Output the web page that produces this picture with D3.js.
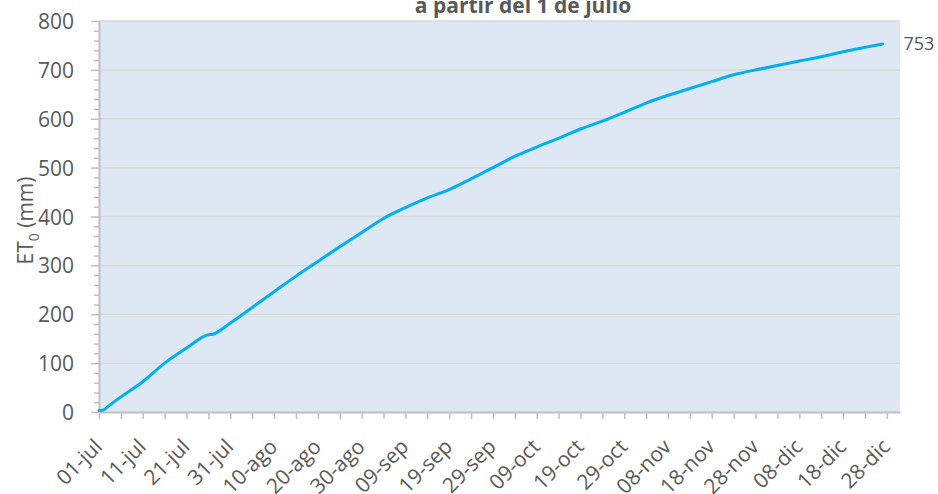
<!DOCTYPE html>
<html>
<meta charset="utf-8">
<style>
  body {
    margin: 0;
    padding: 0;
    background-color: #ffffff;
    font-family: "Open Sans", sans-serif;
  }
  text {
    font-family: "Open Sans", sans-serif;
    fill: #595959;
  }
  .title {
    font-size: 21px;
    font-weight: 700;
  }
  .y-axis text { font-size: 21px; }
  .x-axis text { font-size: 21px; }
  .domain { stroke: #bfbfbf; stroke-width: 2px; }
  .tick line { stroke: #bfbfbf; stroke-width: 1.5px; }
</style>
<body>

<script src="https://d3js.org/d3.v7.min.js"></script>

<div id="my_dataviz"></div>

<script>

// fechas (ET0 acumulada desde el 1 de julio)
var fechas = ["2021-07-01","2021-07-02","2021-07-03","2021-07-06","2021-07-11","2021-07-16",
  "2021-07-21","2021-07-26","2021-07-27","2021-07-31","2021-08-05","2021-08-10","2021-08-15",
  "2021-08-20","2021-08-25","2021-08-30","2021-09-04","2021-09-09","2021-09-14","2021-09-19",
  "2021-09-24","2021-09-29","2021-10-04","2021-10-09","2021-10-14","2021-10-19","2021-10-24",
  "2021-10-29","2021-11-03","2021-11-08","2021-11-13","2021-11-18","2021-11-23","2021-11-28",
  "2021-12-03","2021-12-08","2021-12-13","2021-12-18","2021-12-23","2021-12-27"];

// ET0 acumulada (mm)
var et0 = [3, 4, 11, 31, 62, 100, 131, 158, 159, 182, 214, 246, 278, 308, 338, 367, 396, 418,
  438, 455, 477, 500, 523, 542, 560, 579, 595, 613, 632, 648, 662, 676, 690, 700, 709, 718,
  727, 737, 746, 753];

// etiquetas del eje x (cada 10 dias)
var etiquetasX = ["01-jul","11-jul","21-jul","31-jul","10-ago","20-ago","30-ago","09-sep",
  "19-sep","29-sep","09-oct","19-oct","29-oct","08-nov","18-nov","28-nov","08-dic","18-dic","28-dic"];

var ticksY = [0, 100, 200, 300, 400, 500, 600, 700, 800];

var titulo = "a partir del 1 de julio";
var tituloY = "ET";
var etiquetaFinal = "753";

// dimensions
var margin = {top: 21, right: 38, bottom: 82, left: 99},
    width = 938 - margin.left - margin.right,
    height = 494 - margin.top - margin.bottom;

var svg = d3.select("#my_dataviz")
  .append("svg")
    .attr("width", 938)
    .attr("height", 494);

var g = svg.append("g")
    .attr("transform", "translate(" + margin.left + "," + margin.top + ")");

var parse = d3.timeParse("%Y-%m-%d");
var data = fechas.map(function(f, i) { return {fecha: parse(f), valor: et0[i]}; });

var inicio = parse("2021-07-01");
var fin = parse("2021-12-31");

// scales
var x = d3.scaleTime()
  .domain([inicio, fin])
  .range([0, width]);

var y = d3.scaleLinear()
  .domain([0, 800])
  .range([height, 0]);

// plot background
g.append("rect")
  .attr("width", width)
  .attr("height", height)
  .attr("fill", "#dde8f4");

// gridlines
g.append("g")
  .selectAll("line")
  .data(ticksY.slice(1))
  .enter()
  .append("line")
    .attr("x1", 0)
    .attr("x2", width)
    .attr("y1", function(d) { return y(d); })
    .attr("y2", function(d) { return y(d); })
    .attr("stroke", "#d9d9d9")
    .attr("stroke-width", 1.5);

// Y axis: minor ticks every 20
var menores = d3.range(0, 801, 20).filter(function(d) { return d % 100 != 0; });
g.append("g")
  .attr("class", "y-axis")
  .call(d3.axisLeft(y).tickValues(menores).tickSize(5).tickFormat(""))
  .select(".domain").remove();

g.append("g")
  .attr("class", "y-axis")
  .call(d3.axisLeft(y).tickValues(ticksY).tickSize(8).tickPadding(17).tickSizeOuter(0))
  .selectAll(".tick text")
    .attr("dy", "0.36em");

// X axis: tick every 5 days, label every 10
var ticksX = d3.range(0, 37).map(function(i) { return d3.timeDay.offset(inicio, i * 5); });
var ejeX = g.append("g")
  .attr("class", "x-axis")
  .attr("transform", "translate(0," + height + ")")
  .call(d3.axisBottom(x)
    .tickValues(ticksX)
    .tickSize(7)
    .tickSizeOuter(0)
    .tickFormat(function(d, i) { return i % 2 == 0 ? etiquetasX[i / 2] : ""; }));

ejeX.selectAll(".tick text")
  .attr("y", 0)
  .attr("dy", 0)
  .attr("text-anchor", "end")
  .attr("transform", "translate(4,36) rotate(-45)");

// line
g.append("path")
  .datum(data)
  .attr("fill", "none")
  .attr("stroke", "#00b0f0")
  .attr("stroke-width", 3)
  .attr("stroke-linejoin", "round")
  .attr("stroke-linecap", "round")
  .attr("d", d3.line()
    .curve(d3.curveMonotoneX)
    .x(function(d) { return x(d.fecha); })
    .y(function(d) { return y(d.valor); }));

// label at the end of the line
var ultimo = data[data.length - 1];
g.append("text")
  .attr("x", x(ultimo.fecha) + 21)
  .attr("y", y(ultimo.valor))
  .attr("dy", "0.36em")
  .style("font-size", "18px")
  .text(etiquetaFinal);

// title (cut at the top, as in the original)
svg.append("text")
  .attr("class", "title")
  .attr("x", 523)
  .attr("y", 13)
  .attr("text-anchor", "middle")
  .text(titulo);

// Y axis title
var ty = svg.append("text")
  .attr("transform", "translate(33," + (margin.top + height / 2 + 4) + ") rotate(-90)")
  .attr("text-anchor", "middle")
  .style("font-size", "21px");
ty.append("tspan").text(tituloY);
ty.append("tspan").attr("dy", 6).style("font-size", "14px").text("0");
ty.append("tspan").attr("dy", -6).text(" (mm)");

</script>
</body>
</html>
